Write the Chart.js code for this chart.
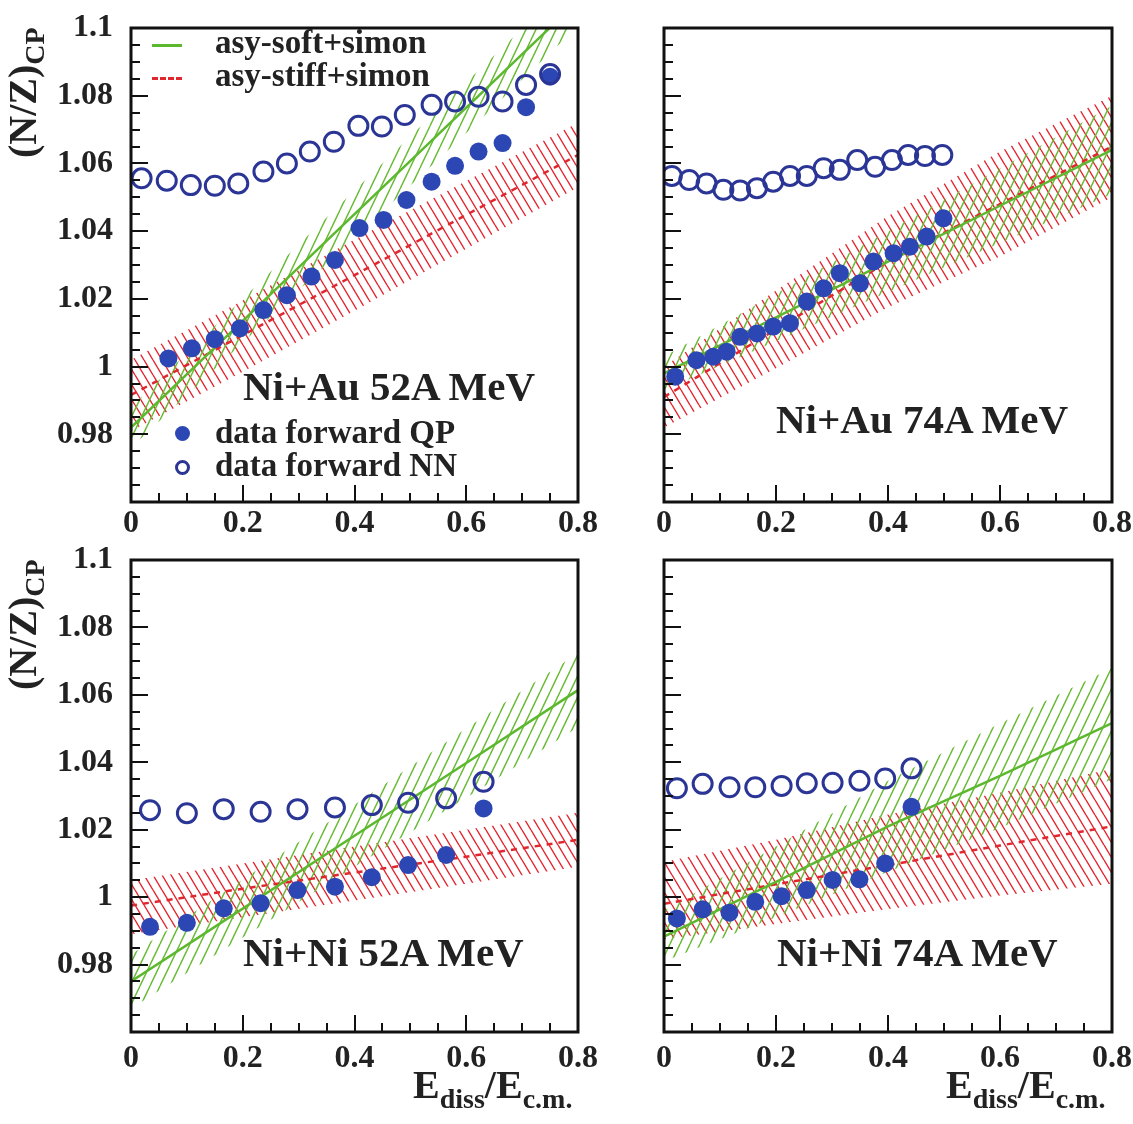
<!DOCTYPE html>
<html>
<head>
<meta charset="utf-8">
<script src="https://cdn.jsdelivr.net/npm/chart.js@4.4.1/dist/chart.umd.min.js"></script>
<style>
  body { margin: 0; background: #fff; }
  #page { position: relative; width: 1133px; height: 1124px; overflow: hidden; background: #fff; }
  canvas { position: absolute; }
  .txt { position: absolute; white-space: nowrap; font-family: 'Liberation Serif', 'DejaVu Serif', serif; font-weight: bold; color: #222; line-height: 1; }
  .lab { font-size: 41px; }
  .leg { font-size: 33px; }
  .title { font-size: 40px; }
  .sub { font-size: 28px; position: relative; top: 10px; }
  .ytitle { transform-origin: left top; transform: rotate(-90deg); }
  .mk { position: absolute; box-sizing: border-box; }
</style>
</head>
<body>
<div id="page">
  <canvas id="cTL" width="610" height="545" style="left:0;top:0"></canvas>
  <canvas id="cTR" width="533" height="545" style="left:600px;top:0"></canvas>
  <canvas id="cBL" width="610" height="579" style="left:0;top:545px"></canvas>
  <canvas id="cBR" width="533" height="579" style="left:600px;top:545px"></canvas>

  <div class="txt title ytitle" style="left:3px;top:158px">(N/Z)<span class="sub" style="top:8px">CP</span></div>
  <div class="txt title ytitle" style="left:3px;top:690px">(N/Z)<span class="sub" style="top:8px">CP</span></div>
  <div class="txt title" style="left:413px;top:1065px">E<span class="sub">diss</span>/E<span class="sub">c.m.</span></div>
  <div class="txt title" style="left:946px;top:1065px">E<span class="sub">diss</span>/E<span class="sub">c.m.</span></div>

  <div class="txt lab" style="left:243px;top:366px">Ni+Au 52A MeV</div>
  <div class="txt lab" style="left:776px;top:399px">Ni+Au 74A MeV</div>
  <div class="txt lab" style="left:243px;top:932px">Ni+Ni 52A MeV</div>
  <div class="txt lab" style="left:777px;top:932px">Ni+Ni 74A MeV</div>

  <div class="mk" style="left:152px;top:44px;width:30px;height:3px;background:#5cb82e"></div>
  <div class="mk" style="left:152px;top:77px;width:30px;height:0;border-top:3px dashed #e0262e"></div>
  <div class="mk" style="left:175px;top:426px;width:15px;height:15px;border-radius:50%;background:#2c46b4"></div>
  <div class="mk" style="left:175px;top:460px;width:15px;height:15px;border-radius:50%;border:3px solid #2a3596"></div>
  <div class="txt leg" style="left:215px;top:26px">asy-soft+simon</div>
  <div class="txt leg" style="left:215px;top:59px">asy-stiff+simon</div>
  <div class="txt leg" style="left:215px;top:416px">data forward QP</div>
  <div class="txt leg" style="left:215px;top:449px">data forward NN</div>
</div>
<script>
// axis ticks
const xTicks = [0, 0.2, 0.4, 0.6, 0.8];
const xTickLabels = ['0', '0.2', '0.4', '0.6', '0.8'];
const yTicks = [0.98, 1, 1.02, 1.04, 1.06, 1.08, 1.1];
const yTickLabels = ['0.98', '1', '1.02', '1.04', '1.06', '1.08', '1.1'];

// model bands (asy-soft / asy-stiff), sampled on bandX
const bandX = [0, 0.2, 0.4, 0.6, 0.8];

// Ni+Au 52A MeV
const nnX_au52 = [0.019, 0.064, 0.107, 0.150, 0.192, 0.237, 0.279, 0.320, 0.363, 0.407, 0.449, 0.490, 0.538, 0.580, 0.622, 0.665, 0.707, 0.750];
const nnY_au52 = [1.0556, 1.0549, 1.0536, 1.0534, 1.0541, 1.0576, 1.0600, 1.0635, 1.0664, 1.0711, 1.0709, 1.0743, 1.0773, 1.0783, 1.0797, 1.0783, 1.0832, 1.0864];
const qpX_au52 = [0.067, 0.109, 0.150, 0.195, 0.237, 0.279, 0.323, 0.365, 0.409, 0.452, 0.493, 0.538, 0.580, 0.622, 0.665, 0.707, 0.750];
const qpY_au52 = [1.0024, 1.0054, 1.0081, 1.0113, 1.0167, 1.0211, 1.0266, 1.0315, 1.0409, 1.0433, 1.0492, 1.0546, 1.0593, 1.0635, 1.0660, 1.0766, 1.0856];
const softLo_au52 = [0.976, 1.007, 1.038, 1.069, 1.1005];
const softMid_au52 = [0.982, 1.0135, 1.045, 1.0765, 1.108];
const softHi_au52 = [0.988, 1.020, 1.052, 1.084, 1.1155];
const stiffLo_au52 = [0.981, 0.9985, 1.0165, 1.0348, 1.053];
const stiffMid_au52 = [0.9916, 1.0093, 1.027, 1.0448, 1.0625];
const stiffHi_au52 = [1.002, 1.0195, 1.0375, 1.0548, 1.072];

// Ni+Au 74A MeV
const nnX_au74 = [0.014, 0.045, 0.076, 0.106, 0.136, 0.166, 0.195, 0.225, 0.255, 0.285, 0.314, 0.345, 0.377, 0.407, 0.436, 0.466, 0.497];
const nnY_au74 = [1.0563, 1.0551, 1.0541, 1.0522, 1.0520, 1.0527, 1.0546, 1.0563, 1.0563, 1.0586, 1.0581, 1.0610, 1.0590, 1.0610, 1.0625, 1.0622, 1.0625];
const qpX_au74 = [0.020, 0.058, 0.088, 0.112, 0.136, 0.166, 0.195, 0.225, 0.255, 0.285, 0.314, 0.350, 0.374, 0.410, 0.439, 0.469, 0.499];
const qpY_au74 = [0.9970, 1.0019, 1.0029, 1.0044, 1.0088, 1.0098, 1.0118, 1.0128, 1.0192, 1.0231, 1.0276, 1.0246, 1.0310, 1.0335, 1.0354, 1.0384, 1.0438];
const softLo_au74 = [0.993, 1.0075, 1.022, 1.0365, 1.051];
const softMid_au74 = [0.998, 1.0145, 1.031, 1.0475, 1.064];
const softHi_au74 = [1.003, 1.0215, 1.040, 1.0585, 1.077];
const stiffLo_au74 = [0.982, 0.9995, 1.0175, 1.0325, 1.050];
const stiffMid_au74 = [0.991, 1.011, 1.031, 1.048, 1.065];
const stiffHi_au74 = [1.000, 1.0225, 1.0445, 1.0635, 1.080];

// Ni+Ni 52A MeV
const nnX_ni52 = [0.034, 0.100, 0.166, 0.232, 0.298, 0.365, 0.431, 0.496, 0.564, 0.631];
const nnY_ni52 = [1.0258, 1.0249, 1.0261, 1.0253, 1.0261, 1.0266, 1.0273, 1.0280, 1.0293, 1.0342];
const qpX_ni52 = [0.034, 0.100, 0.166, 0.232, 0.298, 0.365, 0.431, 0.496, 0.564, 0.631];
const qpY_ni52 = [0.9912, 0.9924, 0.9967, 0.9982, 1.0021, 1.0031, 1.0059, 1.0095, 1.0125, 1.0263];
const softLo_ni52 = [0.967, 0.988, 1.009, 1.0295, 1.0504];
const softMid_ni52 = [0.975, 0.9966, 1.0182, 1.0398, 1.0614];
const softHi_ni52 = [0.983, 1.0052, 1.0274, 1.050, 1.0724];
const stiffLo_ni52 = [0.989, 0.994, 0.999, 1.004, 1.009];
const stiffMid_ni52 = [0.9975, 1.0025, 1.0073, 1.012, 1.017];
const stiffHi_ni52 = [1.005, 1.010, 1.015, 1.020, 1.025];

// Ni+Ni 74A MeV
const nnX_ni74 = [0.023, 0.069, 0.117, 0.163, 0.210, 0.255, 0.301, 0.349, 0.395, 0.442];
const nnY_ni74 = [1.0323, 1.0336, 1.0326, 1.0326, 1.0330, 1.0338, 1.0339, 1.0345, 1.0352, 1.0382];
const qpX_ni74 = [0.023, 0.069, 0.117, 0.163, 0.210, 0.255, 0.301, 0.349, 0.395, 0.442];
const qpY_ni74 = [0.9937, 0.9964, 0.9954, 0.9986, 1.0003, 1.0021, 1.0051, 1.0053, 1.0100, 1.0268];
const softLo_ni74 = [0.981, 0.994, 1.0075, 1.0205, 1.035];
const softMid_ni74 = [0.9883, 1.0045, 1.021, 1.036, 1.0516];
const softHi_ni74 = [0.996, 1.015, 1.0345, 1.0515, 1.068];
const stiffLo_ni74 = [0.9875, 0.992, 0.9965, 1.0005, 1.004];
const stiffMid_ni74 = [0.998, 1.0038, 1.0095, 1.0153, 1.021];
const stiffHi_ni74 = [1.0105, 1.017, 1.0245, 1.031, 1.038];

const GREEN = '#5cb82e';
const RED = '#e0262e';
const BLUE = '#2c46b4';
const BLUE_OPEN = '#2a3596';
const FONT = "'Liberation Serif', 'DejaVu Serif', serif";

function hatch(color, w, h, up) {
    const c = document.createElement('canvas');
    c.width = w; c.height = h;
    const g = c.getContext('2d');
    g.strokeStyle = color;
    g.lineWidth = 1.4;
    g.beginPath();
    for (const o of [-w, 0, w]) {
        if (up) { g.moveTo(o, h); g.lineTo(o + w, 0); }
        else { g.moveTo(o, 0); g.lineTo(o + w, h); }
    }
    g.stroke();
    return g.createPattern(c, 'repeat');
}

const greenHatch = hatch('rgb(104,186,52)', 10, 21, true);
const redHatch = hatch('rgb(228,36,46)', 9, 15, false);

const pts = (xs, ys) => xs.map((x, i) => ({ x: x, y: ys[i] }));

// ROOT-like frame with inward ticks
const frame = {
    id: 'frame',
    afterDraw(chart) {
        const { ctx, chartArea: a, scales } = chart;
        const x = scales.x, y = scales.y;
        ctx.save();
        ctx.strokeStyle = '#111';
        ctx.lineWidth = 2;
        ctx.beginPath();
        for (let i = 0; i <= 28; i++) {
            const py = Math.round(y.getPixelForValue(0.96 + i * 0.005));
            const len = i % 4 === 0 ? 17 : 9;
            ctx.moveTo(a.left, py); ctx.lineTo(a.left + len, py);
        }
        for (let i = 0; i <= 16; i++) {
            const px = Math.round(x.getPixelForValue(i * 0.05));
            const len = i % 4 === 0 ? 17 : 9;
            ctx.moveTo(px, a.bottom); ctx.lineTo(px, a.bottom - len);
        }
        ctx.stroke();
        ctx.lineWidth = 3;
        ctx.strokeRect(a.left, a.top, a.right - a.left, a.bottom - a.top);
        ctx.restore();
    }
};

function panel(id, d, opt) {
    const datasets = [
        { data: pts(d.nnX, d.nnY), showLine: false, pointRadius: 9.5, pointBorderWidth: 3,
          pointBackgroundColor: 'rgba(0,0,0,0)', pointBorderColor: BLUE_OPEN },
        { data: pts(d.qpX, d.qpY), showLine: false, pointRadius: 9, pointBorderWidth: 0,
          pointBackgroundColor: BLUE, pointBorderColor: BLUE },
        { data: pts(bandX, d.softMid), borderColor: GREEN, borderWidth: 2.5, pointRadius: 0, fill: false },
        { data: pts(bandX, d.stiffMid), borderColor: RED, borderWidth: 2.5, borderDash: [6, 6], pointRadius: 0, fill: false },
        { data: pts(bandX, d.softHi), borderColor: 'rgba(0,0,0,0)', pointRadius: 0, fill: '+1', backgroundColor: greenHatch },
        { data: pts(bandX, d.softLo), borderColor: 'rgba(0,0,0,0)', pointRadius: 0, fill: false },
        { data: pts(bandX, d.stiffHi), borderColor: 'rgba(0,0,0,0)', pointRadius: 0, fill: '+1', backgroundColor: redHatch },
        { data: pts(bandX, d.stiffLo), borderColor: 'rgba(0,0,0,0)', pointRadius: 0, fill: false }
    ];
    new Chart(document.getElementById(id), {
        type: 'line',
        data: { datasets: datasets },
        options: {
            responsive: false,
            animation: false,
            events: [],
            layout: { padding: { top: opt.top, right: opt.right, left: 0, bottom: 0 } },
            plugins: { legend: { display: false }, tooltip: { enabled: false } },
            scales: {
                x: {
                    type: 'linear', min: 0, max: 0.8,
                    grid: { display: false, drawTicks: false },
                    border: { display: false },
                    afterBuildTicks: s => { s.ticks = xTicks.map(v => ({ value: v })); },
                    afterFit: s => { s.height = opt.xh; s.paddingLeft = 0; s.paddingRight = 0; },
                    ticks: {
                        padding: opt.xpad, color: '#222',
                        font: { family: FONT, weight: 'bold', size: 32 },
                        maxRotation: 0,
                        callback: (v, i) => xTickLabels[i]
                    }
                },
                y: {
                    type: 'linear', min: 0.96, max: 1.1,
                    grid: { display: false, drawTicks: false },
                    border: { display: false },
                    afterBuildTicks: s => { s.ticks = yTicks.map(v => ({ value: v })); },
                    afterFit: s => { s.width = opt.yw; s.paddingTop = 0; s.paddingBottom = 0; },
                    ticks: {
                        display: opt.ylabels, padding: 18, color: '#222',
                        font: { family: FONT, weight: 'bold', size: 32 },
                        callback: (v, i) => yTickLabels[i]
                    }
                }
            }
        },
        plugins: [frame]
    });
}

panel('cTL', { nnX: nnX_au52, nnY: nnY_au52, qpX: qpX_au52, qpY: qpY_au52,
    softLo: softLo_au52, softMid: softMid_au52, softHi: softHi_au52,
    stiffLo: stiffLo_au52, stiffMid: stiffMid_au52, stiffHi: stiffHi_au52 },
    { top: 28, right: 32, yw: 131, xh: 43, xpad: 3, ylabels: true });
panel('cTR', { nnX: nnX_au74, nnY: nnY_au74, qpX: qpX_au74, qpY: qpY_au74,
    softLo: softLo_au74, softMid: softMid_au74, softHi: softHi_au74,
    stiffLo: stiffLo_au74, stiffMid: stiffMid_au74, stiffHi: stiffHi_au74 },
    { top: 28, right: 21, yw: 64, xh: 43, xpad: 3, ylabels: false });
panel('cBL', { nnX: nnX_ni52, nnY: nnY_ni52, qpX: qpX_ni52, qpY: qpY_ni52,
    softLo: softLo_ni52, softMid: softMid_ni52, softHi: softHi_ni52,
    stiffLo: stiffLo_ni52, stiffMid: stiffMid_ni52, stiffHi: stiffHi_ni52 },
    { top: 15, right: 32, yw: 131, xh: 92, xpad: 8, ylabels: true });
panel('cBR', { nnX: nnX_ni74, nnY: nnY_ni74, qpX: qpX_ni74, qpY: qpY_ni74,
    softLo: softLo_ni74, softMid: softMid_ni74, softHi: softHi_ni74,
    stiffLo: stiffLo_ni74, stiffMid: stiffMid_ni74, stiffHi: stiffHi_ni74 },
    { top: 15, right: 21, yw: 64, xh: 92, xpad: 8, ylabels: false });
</script>
</body>
</html>
